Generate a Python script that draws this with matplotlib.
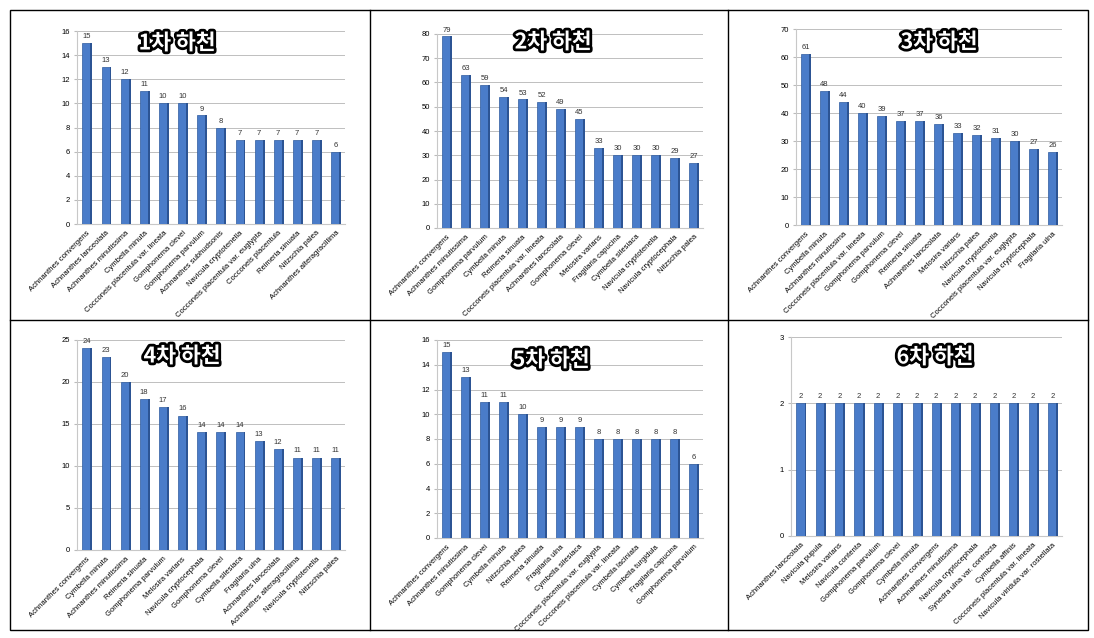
import matplotlib
matplotlib.use('Agg')
import matplotlib.pyplot as plt
import matplotlib.patheffects as pe
from matplotlib.patches import Rectangle
from matplotlib.lines import Line2D
import numpy as np

plt.rcParams['font.family'] = ['Liberation Sans', 'Noto Sans CJK KR']

# ── data ───────────────────────────────────────────────────────────────────
TITLES = ['1차 하천', '2차 하천', '3차 하천', '4차 하천', '5차 하천', '6차 하천']

LABELS_1 = ['Achnanthes convergens', 'Achnanthes lanceolata', 'Achnanthes minutissima',
            'Cymbella minuta', 'Cocconeis placentula var. lineata', 'Gomphonema clevei',
            'Gomphonema parvulum', 'Achnanthes subhudsonis', 'Navicula cryptotenella',
            'Cocconeis placentula var. euglypta', 'Cocconeis placentula', 'Reimeria sinuata',
            'Nitzschia palea', 'Achnanthes alteragracillima']
VALUES_1 = [15, 13, 12, 11, 10, 10, 9, 8, 7, 7, 7, 7, 7, 6]

LABELS_2 = ['Achnanthes convergens', 'Achnanthes minutissima', 'Gomphonema parvulum',
            'Cymbella minuta', 'Reimeria sinuata', 'Cocconeis placentula var. lineata',
            'Achnanthes lanceolata', 'Gomphonema clevei', 'Melosira varians',
            'Fragilaria capucina', 'Cymbella silesiaca', 'Navicula cryptotenella',
            'Navicula cryptocephala', 'Nitzschia palea']
VALUES_2 = [79, 63, 59, 54, 53, 52, 49, 45, 33, 30, 30, 30, 29, 27]

LABELS_3 = ['Achnanthes convergens', 'Cymbella minuta', 'Achnanthes minutissima',
            'Cocconeis placentula var. lineata', 'Gomphonema parvulum', 'Gomphonema clevei',
            'Reimeria sinuata', 'Achnanthes lanceolata', 'Melosira varians',
            'Nitzschia palea', 'Navicula cryptotenella', 'Cocconeis placentula var. euglypta',
            'Navicula cryptocephala', 'Fragilaria ulna']
VALUES_3 = [61, 48, 44, 40, 39, 37, 37, 36, 33, 32, 31, 30, 27, 26]

LABELS_4 = ['Achnanthes convergens', 'Cymbella minuta', 'Achnanthes minutissima',
            'Reimeria sinuata', 'Gomphonema parvulum', 'Melosira varians',
            'Navicula cryptocephala', 'Gomphonema clevei', 'Cymbella silesiaca',
            'Fragilaria ulna', 'Achnanthes lanceolata', 'Achnanthes alteragracillima',
            'Navicula cryptotenella', 'Nitzschia palea']
VALUES_4 = [24, 23, 20, 18, 17, 16, 14, 14, 14, 13, 12, 11, 11, 11]

LABELS_5 = ['Achnanthes convergens', 'Achnanthes minutissima', 'Gomphonema clevei',
            'Cymbella minuta', 'Nitzschia palea', 'Reimeria sinuata', 'Fragilaria ulna',
            'Cymbella silesiaca', 'Cocconeis placentula var. euglypta',
            'Cocconeis placentula var. lineata', 'Cymbella laciniata', 'Cymbella turgidula',
            'Fragilaria capucina', 'Gomphonema parvulum']
VALUES_5 = [15, 13, 11, 11, 10, 9, 9, 9, 8, 8, 8, 8, 8, 6]

LABELS_6 = ['Achnanthes lanceolata', 'Navicula pupula', 'Melosira varians',
            'Navicula contenta', 'Gomphonema parvulum', 'Gomphonema clevei',
            'Cymbella minuta', 'Achnanthes convergens', 'Achnanthes minutissima',
            'Navicula cryptocephala', 'Synedra ulna var. contracta', 'Cymbella affinis',
            'Cocconeis placentula var. lineata', 'Navicula viridula var. rostellata']
VALUES_6 = [2, 2, 2, 2, 2, 2, 2, 2, 2, 2, 2, 2, 2, 2]

YMAX = [16, 80, 70, 25, 16, 3]
YSTEP = [2, 10, 10, 5, 2, 1]

# ── layout (pixel boxes: left, top, right, zero-line) ─────────────────────
W, H = 1094, 638
BOXES = [(77, 31, 345, 224), (437, 34, 703, 228), (796, 29, 1062, 225),
         (77, 340, 345, 550), (437, 340, 703, 538), (791, 337, 1062, 536)]
TITLE_POS = [(177, 43), (553, 42), (939, 42), (182, 356), (551, 360), (935, 357)]

fig = plt.figure(figsize=(W / 100, H / 100), dpi=100)
fig.patch.set_facecolor('white')

panels = [(LABELS_1, VALUES_1), (LABELS_2, VALUES_2), (LABELS_3, VALUES_3),
          (LABELS_4, VALUES_4), (LABELS_5, VALUES_5), (LABELS_6, VALUES_6)]

for i, (labels, values) in enumerate(panels):
    l, t, r, b = BOXES[i]
    ax = fig.add_axes([l / W, 1 - b / H, (r - l) / W, (b - t) / H])
    x = np.arange(len(values))
    ax.bar(x, values, width=0.44, color='#4a7cc9', edgecolor='#2e5b9f', lw=0.5, zorder=3)
    ax.bar(x + 0.25, values, width=0.1, color='#2c5494', lw=0, zorder=3)
    for xi, v in zip(x, values):
        ax.text(xi, v + YMAX[i] * 0.015, str(v), ha='center', va='bottom',
                fontsize=5.5, color='#333333')
    ax.set_xlim(-0.5, len(values) - 0.5)
    ax.set_ylim(0, YMAX[i])
    ax.set_yticks(np.arange(0, YMAX[i] + 0.01, YSTEP[i]))
    ax.set_xticks(x)
    ax.set_xticklabels(labels, rotation=45, ha='right', rotation_mode='anchor',
                       fontsize=5.5)
    ax.tick_params(axis='y', labelsize=5.5, length=2, color='#bbbbbb', pad=3)
    ax.tick_params(axis='x', length=0, pad=4)
    ax.grid(axis='y', color='#bfbfbf', lw=0.7, zorder=0)
    for s in ['top', 'right']:
        ax.spines[s].set_visible(False)
    ax.spines['left'].set_color('#c8c8c8')
    ax.spines['bottom'].set_color('#c8c8c8')

    tx, ty = TITLE_POS[i]
    fig.text(tx / W, 1 - ty / H, TITLES[i], ha='center', va='center',
             fontsize=15.5, fontweight='bold', color='white',
             family=['Noto Sans CJK KR', 'DejaVu Sans'],
             path_effects=[pe.withStroke(linewidth=4, foreground='black')])

# ── table frame ────────────────────────────────────────────────────────────
fig.add_artist(Rectangle((10 / W, 1 - 630 / H), 1078 / W, 620 / H,
                         transform=fig.transFigure, fill=False, ec='black', lw=1))
for xv in [370, 728]:
    fig.add_artist(Line2D([xv / W, xv / W], [1 - 630 / H, 1 - 10 / H],
                          transform=fig.transFigure, color='black', lw=1))
fig.add_artist(Line2D([10 / W, 1088 / W], [1 - 320 / H, 1 - 320 / H],
                      transform=fig.transFigure, color='black', lw=1))

fig.savefig('out.png', dpi=100)
